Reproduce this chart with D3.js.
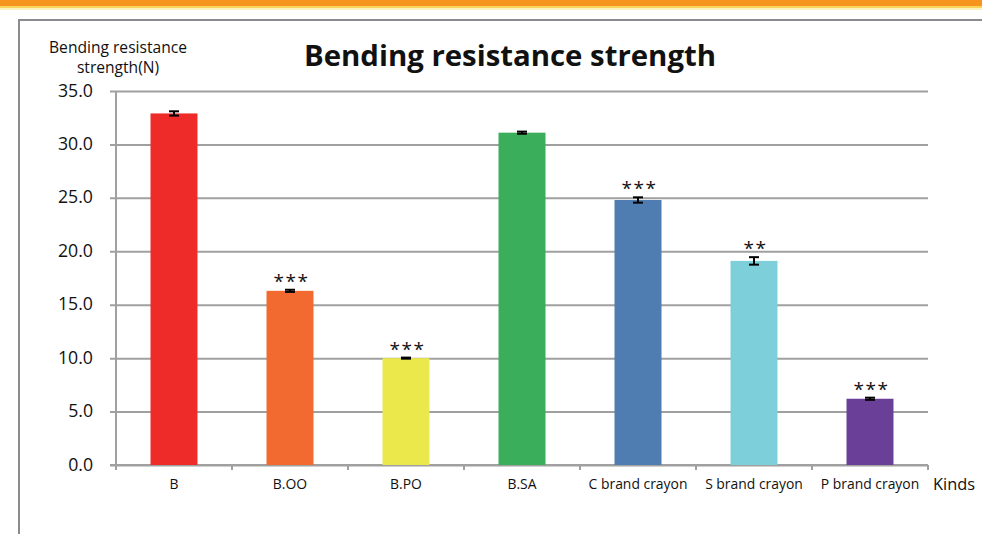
<!DOCTYPE html>
<html>
<head>
<meta charset="utf-8">
<script src="https://cdn.jsdelivr.net/npm/d3@7"></script>
<style>
  html, body { margin: 0; padding: 0; background: #fff; }
  svg { display: block; }
  text { font-family: "Open Sans", "Liberation Sans", sans-serif; fill: #111; }
</style>
</head>
<body>
<svg id="chart" width="982" height="534"></svg>
<script>
// Bending resistance strength (N) per kind, with standard error and significance marks
const kinds = ["B", "B.OO", "B.PO", "B.SA", "C brand crayon", "S brand crayon", "P brand crayon"];
const strength = [32.9, 16.3, 10.0, 31.1, 24.8, 19.1, 6.2];
const errors = [0.2, 0.1, 0.05, 0.1, 0.25, 0.35, 0.1];
const marks = ["", "***", "***", "", "***", "**", "***"];
const barColors = ["#EE2B29", "#F26A30", "#EAE84B", "#3AAE5B", "#4F7DB1", "#7DCFD9", "#6A3F98"];
const yTicks = [0, 5, 10, 15, 20, 25, 30, 35];

const svg = d3.select("#chart");
const W = 982, H = 534;
const plot = { left: 116, right: 928, top: 91, bottom: 465 };

// Fit a text element to a target width by adjusting its font size
function fitWidth(sel, target) {
  const node = sel.node();
  const fs = parseFloat(sel.attr("font-size"));
  const len = node.getComputedTextLength();
  if (len > 0) sel.attr("font-size", (fs * target / len).toFixed(2));
  return sel;
}

// Header band
svg.append("rect").attr("x", 0).attr("y", 0).attr("width", W).attr("height", 6).attr("fill", "#F7941E");
svg.append("rect").attr("x", 0).attr("y", 6).attr("width", W).attr("height", 2).attr("fill", "#F9D45A");
svg.append("rect").attr("x", 0).attr("y", 8).attr("width", W).attr("height", 2).attr("fill", "#FBF2BE");

// Outer frame
svg.append("path")
  .attr("d", `M19,${H + 2} L19,20 L${W + 2},20`)
  .attr("fill", "none").attr("stroke", "#8a8a8f").attr("stroke-width", 2);

const x = d3.scaleBand().domain(kinds).range([plot.left, plot.right]).paddingInner(0).paddingOuter(0);
const y = d3.scaleLinear().domain([0, 35]).range([plot.bottom, plot.top]);
const barW = x.bandwidth() * 0.405;

// Horizontal gridlines with left tick marks
const yAxis = d3.axisLeft(y).tickValues(yTicks).tickSize(-(plot.right - plot.left)).tickSizeOuter(0).tickFormat("");
const gy = svg.append("g").attr("transform", `translate(${plot.left},0)`).call(yAxis);
gy.select(".domain").remove();
gy.selectAll(".tick line").attr("stroke", "#a0a0a0").attr("stroke-width", 2)
  .attr("x1", -6);

// Y tick labels, all at the size that fits "35.0"
const tickLabels = yTicks.map(v => svg.append("text")
  .attr("x", 93).attr("y", y(v) + 5.5)
  .attr("text-anchor", "end").attr("font-size", 15)
  .text(d3.format(".1f")(v)));
fitWidth(tickLabels[tickLabels.length - 1], 35);
const tickFs = tickLabels[tickLabels.length - 1].attr("font-size");
tickLabels.forEach(t => t.attr("font-size", tickFs));

// Y axis line
svg.append("line").attr("x1", plot.left).attr("x2", plot.left)
  .attr("y1", plot.top).attr("y2", plot.bottom + 4)
  .attr("stroke", "#a0a0a0").attr("stroke-width", 2);

// X axis with boundary ticks
const xAxis = svg.append("g");
xAxis.append("line").attr("x1", plot.left - 6).attr("x2", plot.right)
  .attr("y1", plot.bottom).attr("y2", plot.bottom)
  .attr("stroke", "#a0a0a0").attr("stroke-width", 2);
const bounds = kinds.map(k => x(k)).concat([x(kinds[kinds.length - 1]) + x.bandwidth()]);
xAxis.selectAll(".xt").data(bounds).join("line").attr("class", "xt")
  .attr("x1", d => d).attr("x2", d => d)
  .attr("y1", plot.bottom).attr("y2", plot.bottom + 5)
  .attr("stroke", "#a0a0a0").attr("stroke-width", 2);

// Bars
svg.selectAll(".bar").data(kinds).join("rect").attr("class", "bar")
  .attr("x", d => x(d) + (x.bandwidth() - barW) / 2)
  .attr("width", barW)
  .attr("y", (d, i) => y(strength[i]))
  .attr("height", (d, i) => y(0) - y(strength[i]))
  .attr("fill", (d, i) => barColors[i]);

// Error bars
const eb = svg.selectAll(".err").data(kinds).join("g").attr("class", "err")
  .attr("transform", d => `translate(${x(d) + x.bandwidth() / 2},0)`);
eb.append("line").attr("y1", (d, i) => y(strength[i] + errors[i])).attr("y2", (d, i) => y(strength[i] - errors[i]))
  .attr("stroke", "#000").attr("stroke-width", 2);
eb.append("line").attr("x1", -5).attr("x2", 5)
  .attr("y1", (d, i) => y(strength[i] + errors[i])).attr("y2", (d, i) => y(strength[i] + errors[i]))
  .attr("stroke", "#000").attr("stroke-width", 2);
eb.append("line").attr("x1", -5).attr("x2", 5)
  .attr("y1", (d, i) => y(strength[i] - errors[i])).attr("y2", (d, i) => y(strength[i] - errors[i]))
  .attr("stroke", "#000").attr("stroke-width", 2);

// Significance marks
svg.selectAll(".sig").data(kinds).join("text").attr("class", "sig")
  .attr("x", d => x(d) + x.bandwidth() / 2 + 1.5)
  .attr("y", (d, i) => y(strength[i] + errors[i]) - 2)
  .attr("text-anchor", "middle")
  .attr("font-family", "'DejaVu Sans', sans-serif")
  .attr("font-size", 19)
  .attr("letter-spacing", 1.5)
  .text((d, i) => marks[i]);

// Category labels
const catLabels = kinds.map(k => svg.append("text")
  .attr("x", x(k) + x.bandwidth() / 2).attr("y", 489)
  .attr("text-anchor", "middle").attr("font-size", 12.5)
  .text(k));
fitWidth(catLabels[4], 99);
catLabels.forEach(t => t.attr("font-size", catLabels[4].attr("font-size")));

// X axis title
fitWidth(svg.append("text").attr("x", 933).attr("y", 490).attr("font-size", 16).text("Kinds"), 42);

// Y axis title
const yl1 = svg.append("text").attr("x", 118).attr("y", 53).attr("text-anchor", "middle").attr("font-size", 13.5).text("Bending resistance");
fitWidth(yl1, 138);
svg.append("text").attr("x", 118).attr("y", 73).attr("text-anchor", "middle").attr("font-size", yl1.attr("font-size")).text("strength(N)");

// Chart title
fitWidth(svg.append("text").attr("x", 510).attr("y", 66).attr("text-anchor", "middle")
  .attr("font-size", 26).attr("font-weight", "bold").text("Bending resistance strength"), 412);
</script>
</body>
</html>
